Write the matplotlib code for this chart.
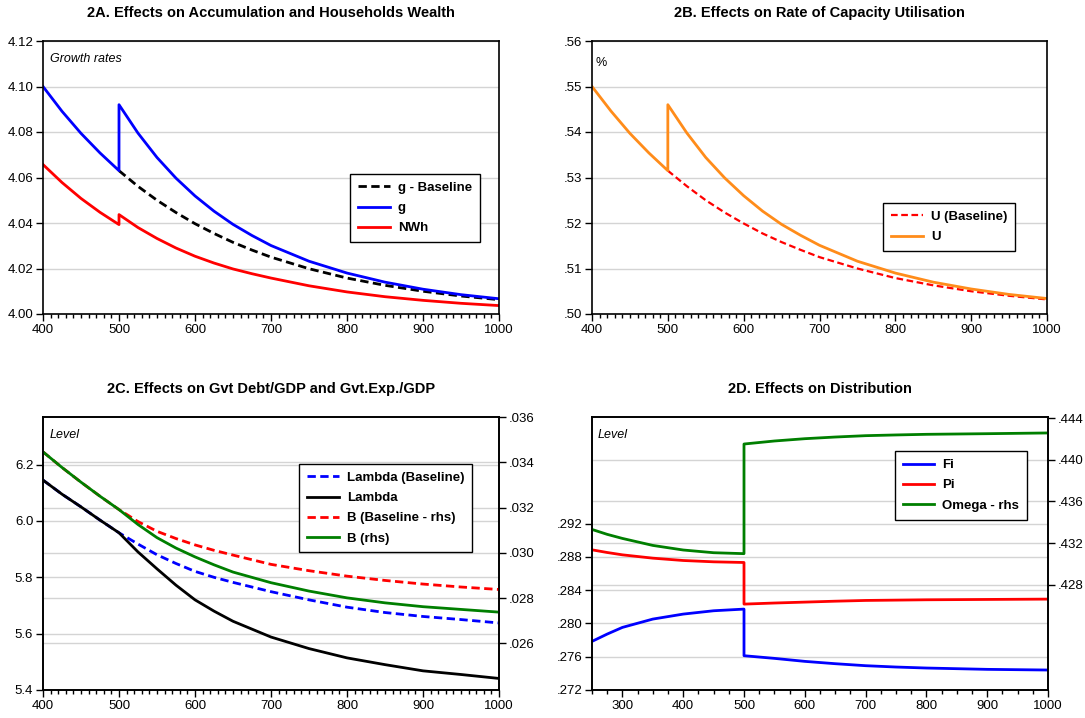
import matplotlib
matplotlib.use("Agg")
import matplotlib.pyplot as plt
from matplotlib.ticker import MultipleLocator
from matplotlib.lines import Line2D
from matplotlib.transforms import blended_transform_factory

plt.rcParams['font.family'] = ['Liberation Sans', 'DejaVu Sans']

# ---- data ----
# 2A / 2B : periods
t_pre = [400, 425, 450, 475, 500]
t_post = [500, 525, 550, 575, 600, 625, 650, 675, 700, 750, 800, 850, 900, 950, 1000]

g_pre = [4.1000, 4.0891, 4.0794, 4.0708, 4.0630]
g_post = [4.0920, 4.0795, 4.0688, 4.0597, 4.0519, 4.0452, 4.0394, 4.0345, 4.0301,
          4.0232, 4.0180, 4.0140, 4.0109, 4.0085, 4.0067]
g_base_post = [4.0630, 4.0561, 4.0500, 4.0446, 4.0397, 4.0354, 4.0315, 4.0281, 4.0250,
               4.0199, 4.0158, 4.0126, 4.0100, 4.0079, 4.0063]
nwh_pre = [4.0657, 4.0578, 4.0508, 4.0447, 4.0393]
nwh_post = [4.0437, 4.0380, 4.0332, 4.0290, 4.0254, 4.0224, 4.0198, 4.0177, 4.0158,
            4.0124, 4.0097, 4.0076, 4.0060, 4.0047, 4.0037]

u_pre = [.5500, .5446, .5397, .5354, .5315]
u_base_post = [.5315, .5281, .5250, .5223, .5199, .5177, .5158, .5141, .5125,
               .5100, .5079, .5063, .5050, .5040, .5032]
u_post = [.5460, .5398, .5344, .5299, .5260, .5226, .5197, .5173, .5151,
          .5116, .5090, .5070, .5055, .5043, .5034]

# 2C
c_pre = [400, 425, 450, 475, 500]
c_post = [500, 525, 550, 575, 600, 625, 650, 700, 750, 800, 850, 900, 950, 1000]
lam_pre = [6.145, 6.095, 6.050, 6.003, 5.958]
lam_post = [5.958, 5.890, 5.830, 5.772, 5.720, 5.680, 5.644, 5.588, 5.547, 5.514,
            5.490, 5.468, 5.455, 5.441]
lam_base_post = [5.958, 5.918, 5.880, 5.849, 5.821, 5.800, 5.782, 5.749, 5.720, 5.694,
                 5.675, 5.661, 5.650, 5.638]
b_pre = [.03446, .03377, .03312, .03250, .03191]
b_post = [.03191, .03125, .03067, .03021, .02982, .02947, .02915, .02868, .02831,
          .02801, .02779, .02762, .02750, .02738]
b_base_post = [.03191, .03138, .03095, .03063, .03035, .03011, .02990, .02949, .02921,
               .02897, .02878, .02862, .02849, .02838]

# 2D
d_pre = [250, 275, 300, 350, 400, 450, 500]
d_post = [500, 550, 600, 650, 700, 750, 800, 900, 1000]
fi_pre = [.27784, .27872, .27952, .28052, .28112, .28152, .28172]
fi_post = [.27612, .27580, .27544, .27516, .27492, .27476, .27464, .27448, .27440]
pi_pre = [.28884, .28852, .28824, .28784, .28756, .28740, .28732]
pi_post = [.28232, .28245, .28256, .28267, .28276, .28280, .28284, .28288, .28292]
om_pre = [.43332, .43285, .43246, .43179, .43135, .43109, .43100]
om_post = [.44151, .44180, .44202, .44218, .44231, .44238, .44244, .44250, .44257]

BLUE = '#0000ff'
RED = '#ff0000'
GREEN = '#007f00'
ORANGE = '#ff8c1a'
GRID = '#d4d4d4'
LW = 2.0


def style(ax, xlim, xmin_step, xticks, yticks, ylabels, ylim):
    ax.set_xlim(*xlim)
    ax.set_xticks(xticks)
    ax.set_xticklabels([str(v) for v in xticks], fontsize=9.5)
    ax.xaxis.set_minor_locator(MultipleLocator(xmin_step))
    ax.set_ylim(*ylim)
    ax.set_yticks(yticks)
    ax.set_yticklabels(ylabels, fontsize=9.5)
    ax.tick_params(which='major', direction='out', length=5, width=1, pad=2)
    ax.tick_params(which='minor', direction='out', length=3, width=1)
    ax.tick_params(axis='y', which='minor', left=False)
    for s in ax.spines.values():
        s.set_linewidth(1.2)
    for v in yticks:
        ax.axhline(v, color=GRID, lw=1, zorder=0)


def rhs_grid(ax, ax2, vals):
    tr = blended_transform_factory(ax.transAxes, ax2.transData)
    for v in vals:
        ax.add_line(Line2D([0, 1], [v, v], transform=tr, color=GRID, lw=1, zorder=0))


fig = plt.figure(figsize=(10.85, 7.18), dpi=100)
W, H = 1085, 718


def add_ax(x0, y0, x1, y1):
    return fig.add_axes([x0 / W, 1 - y1 / H, (x1 - x0) / W, (y1 - y0) / H])


leg_kw = dict(frameon=True, fancybox=False, edgecolor='black', framealpha=1,
              prop={'weight': 'bold', 'size': 9.5}, handlelength=2.4,
              handletextpad=0.6, borderpad=0.6, labelspacing=0.6,
              borderaxespad=0)
title_kw = dict(fontsize=10.5, fontweight='bold', pad=17)

# ---- 2A ----
axA = add_ax(43, 41, 499, 314)
style(axA, (400, 1000), 10, list(range(400, 1001, 100)),
      [4.00, 4.02, 4.04, 4.06, 4.08, 4.10, 4.12],
      ['4.00', '4.02', '4.04', '4.06', '4.08', '4.10', '4.12'], (4.0, 4.12))
axA.plot(t_post, g_base_post, color='black', lw=LW, ls=(0, (3, 1.6)), label='g - Baseline')
axA.plot(t_pre + t_post, g_pre + g_post, color=BLUE, lw=LW, label='g')
axA.plot(t_pre + t_post, nwh_pre + nwh_post, color=RED, lw=LW, label='NWh')
axA.text(0.015, 0.955, 'Growth rates', transform=axA.transAxes, fontsize=9,
         style='italic', va='top')
axA.legend(loc='upper right', bbox_to_anchor=(0.958, 0.513), **leg_kw)
axA.set_title('2A. Effects on Accumulation and Households Wealth', **title_kw)

# ---- 2B ----
axB = add_ax(592, 41, 1047, 314)
style(axB, (400, 1000), 10, list(range(400, 1001, 100)),
      [.50, .51, .52, .53, .54, .55, .56],
      ['.50', '.51', '.52', '.53', '.54', '.55', '.56'], (.50, .56))
axB.plot(t_post, u_base_post, color=RED, lw=1.6, ls=(0, (3, 1.6)), label='U (Baseline)')
axB.plot(t_pre + t_post, u_pre + u_post, color=ORANGE, lw=LW, label='U')
axB.text(0.008, 0.94, '%', transform=axB.transAxes, fontsize=9, va='top')
axB.legend(loc='upper right', bbox_to_anchor=(0.93, 0.407), **leg_kw)
axB.set_title('2B. Effects on Rate of Capacity Utilisation', **title_kw)

# ---- 2C ----
axC = add_ax(43, 417, 499, 690)
style(axC, (400, 1000), 10, list(range(400, 1001, 100)),
      [5.4, 5.6, 5.8, 6.0, 6.2], ['5.4', '5.6', '5.8', '6.0', '6.2'], (5.4, 6.369))
axC2 = axC.twinx()
c_right = [.026, .028, .030, .032, .034, .036]
axC2.set_ylim(.02394, .0360)
axC2.set_yticks(c_right)
axC2.set_yticklabels(['.026', '.028', '.030', '.032', '.034', '.036'], fontsize=9.5)
axC2.tick_params(direction='out', length=5, width=1, pad=2)
rhs_grid(axC, axC2, c_right[:-1])
h1, = axC.plot(c_pre + c_post, lam_pre + lam_base_post, color=BLUE, lw=LW,
               ls=(0, (3, 1.6)), label='Lambda (Baseline)')
h2, = axC.plot(c_pre + c_post, lam_pre + lam_post, color='black', lw=LW, label='Lambda')
h3, = axC2.plot(c_pre + c_post, b_pre + b_base_post, color=RED, lw=LW,
                ls=(0, (3, 1.6)), label='B (Baseline - rhs)')
h4, = axC2.plot(c_pre + c_post, b_pre + b_post, color=GREEN, lw=LW, label='B (rhs)')
axC.text(0.015, 0.955, 'Level', transform=axC.transAxes, fontsize=9,
         style='italic', va='top')
axC2.legend(handles=[h1, h2, h3, h4], loc='upper right',
            bbox_to_anchor=(0.941, 0.828), **leg_kw)
axC.set_title('2C. Effects on Gvt Debt/GDP and Gvt.Exp./GDP', **title_kw)

# ---- 2D ----
axD = add_ax(592, 417, 1048, 690)
style(axD, (250, 1000), 25, list(range(300, 1001, 100)),
      [.272, .276, .280, .284, .288, .292],
      ['.272', '.276', '.280', '.284', '.288', '.292'], (.272, .3048))
axD2 = axD.twinx()
d_right = [.428, .432, .436, .440, .444]
axD2.set_ylim(.41793, .4441)
axD2.set_yticks(d_right)
axD2.set_yticklabels(['.428', '.432', '.436', '.440', '.444'], fontsize=9.5)
axD2.tick_params(direction='out', length=5, width=1, pad=2)
rhs_grid(axD, axD2, d_right[:-1])
k1, = axD.plot(d_pre + d_post, fi_pre + fi_post, color=BLUE, lw=LW, label='Fi')
k2, = axD.plot(d_pre + d_post, pi_pre + pi_post, color=RED, lw=LW, label='Pi')
k3, = axD2.plot(d_pre + d_post, om_pre + om_post, color=GREEN, lw=LW, label='Omega - rhs')
axD.text(0.012, 0.955, 'Level', transform=axD.transAxes, fontsize=9,
         style='italic', va='top')
axD2.legend(handles=[k1, k2, k3], loc='upper right',
            bbox_to_anchor=(0.954, 0.875), **leg_kw)
axD.set_title('2D. Effects on Distribution', **title_kw)

for a in (axC2, axD2):
    for s in a.spines.values():
        s.set_linewidth(1.2)

fig.savefig('out.png', dpi=100)
